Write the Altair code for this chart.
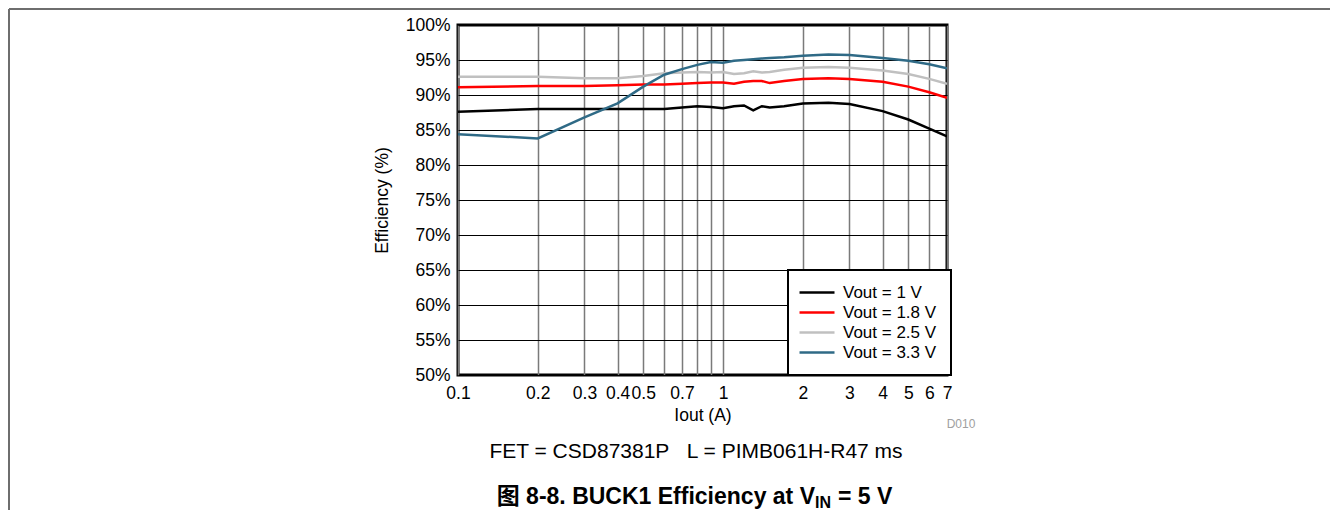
import altair as alt
import pandas as pd

FONT = "Liberation Sans, Arial, Helvetica, Noto Sans CJK SC, sans-serif"

currents = [0.1, 0.2, 0.3, 0.4, 0.5, 0.6, 0.7, 0.8, 0.9, 1.0, 1.1, 1.2, 1.3, 1.4, 1.5, 1.7, 2, 2.5, 3, 4, 5, 6, 7]
eff_1v0 = [87.6, 88.0, 88.0, 88.0, 88.0, 88.0, 88.2, 88.4, 88.3, 88.1, 88.4, 88.5, 87.8, 88.4, 88.2, 88.4, 88.8, 88.9, 88.7, 87.7, 86.5, 85.2, 84.1]
eff_1v8 = [91.1, 91.3, 91.3, 91.4, 91.5, 91.5, 91.6, 91.7, 91.8, 91.8, 91.6, 91.9, 92.0, 92.0, 91.7, 92.0, 92.3, 92.4, 92.3, 91.9, 91.2, 90.4, 89.6]
eff_2v5 = [92.6, 92.6, 92.4, 92.4, 92.7, 93.1, 93.2, 93.3, 93.2, 93.3, 93.0, 93.1, 93.4, 93.2, 93.3, 93.6, 93.9, 94.0, 93.9, 93.5, 93.0, 92.3, 91.6]
eff_3v3 = [84.4, 83.8, 86.8, 88.8, 91.2, 92.9, 93.7, 94.3, 94.7, 94.6, 94.9, 95.0, 95.1, 95.2, 95.3, 95.4, 95.6, 95.8, 95.7, 95.3, 94.9, 94.4, 93.8]

series_names = ["Vout = 1 V", "Vout = 1.8 V", "Vout = 2.5 V", "Vout = 3.3 V"]
series_colors = ["#000000", "#FF0000", "#C0C0C0", "#2F6A86"]

x_ticks = [0.1, 0.2, 0.3, 0.4, 0.5, 0.6, 0.7, 0.8, 0.9, 1, 2, 3, 4, 5, 6, 7]
y_ticks = [50, 55, 60, 65, 70, 75, 80, 85, 90, 95, 100]

x_title = "Iout (A)"
y_title = "Efficiency (%)"
code_text = ["D010"]
sub_text = ["FET = CSD87381P\u00a0\u00a0\u00a0L = PIMB061H-R47 ms"]
caption_main = ["图 8-8. BUCK1 Efficiency at V"]
caption_sub = ["IN"]
caption_end = ["= 5 V"]

rows = []
for name, vals in zip(series_names, [eff_1v0, eff_1v8, eff_2v5, eff_3v3]):
    for c, v in zip(currents, vals):
        rows.append({"Iout": c, "Eff": v, "Series": name})
df = pd.DataFrame(rows)

lines = alt.Chart(df).mark_line(strokeWidth=2.5, clip=True).encode(
    x=alt.X("Iout:Q",
            scale=alt.Scale(type="log", domain=[0.1, 7], nice=False),
            axis=alt.Axis(values=x_ticks, format="~g", title=x_title,
                          labelExpr="(datum.value == 0.6 || datum.value == 0.8 || datum.value == 0.9) ? '' : datum.label",
                          gridColor="#7a7a7a", gridWidth=1.5, labelPadding=9, titlePadding=5,
                          labelOverlap=False, labelFlush=False)),
    y=alt.Y("Eff:Q",
            scale=alt.Scale(domain=[50, 100], nice=False, zero=False),
            axis=alt.Axis(values=y_ticks, labelExpr="datum.value + '%'", title=y_title,
                          gridColor="#000000", gridWidth=1, labelPadding=8, titlePadding=14)),
    color=alt.Color("Series:N",
                    scale=alt.Scale(domain=series_names, range=series_colors),
                    legend=alt.Legend(orient="none", legendX=330, legendY=245, title=None,
                                      symbolType="M-1.83,0L4,0", symbolSize=144, symbolStrokeWidth=2.5,
                                      labelFontSize=17, labelFont=FONT, labelOffset=24,
                                      rowPadding=2, padding=14, strokeColor="black",
                                      fillColor="white")),
)

one = pd.DataFrame({"k": [0]})

frame_v = alt.Chart(one).mark_rule(color="#6e6e6e", strokeWidth=2).encode(
    x=alt.value(-449), y=alt.value(-16), y2=alt.value(493))
frame_h = alt.Chart(one).mark_rule(color="#6e6e6e", strokeWidth=2).encode(
    x=alt.value(-449), x2=alt.value(880), y=alt.value(-16))

t_code = alt.Chart(pd.DataFrame({"t": code_text})).mark_text(
    font=FONT, fontSize=12, color="#a0a0a0", align="center", baseline="alphabetic").encode(
    x=alt.value(503), y=alt.value(403), text="t:N")
t_sub = alt.Chart(pd.DataFrame({"t": sub_text})).mark_text(
    font=FONT, fontSize=21, color="#000000", align="center", baseline="alphabetic").encode(
    x=alt.value(238), y=alt.value(433), text="t:N")
t_cap1 = alt.Chart(pd.DataFrame({"t": caption_main})).mark_text(
    font=FONT, fontSize=23, fontWeight="bold", color="#000000", align="right", baseline="alphabetic").encode(
    x=alt.value(357), y=alt.value(479), text="t:N")
t_cap2 = alt.Chart(pd.DataFrame({"t": caption_sub})).mark_text(
    font=FONT, fontSize=16, fontWeight="bold", color="#000000", align="left", baseline="alphabetic").encode(
    x=alt.value(357), y=alt.value(483), text="t:N")
t_cap3 = alt.Chart(pd.DataFrame({"t": caption_end})).mark_text(
    font=FONT, fontSize=23, fontWeight="bold", color="#000000", align="left", baseline="alphabetic").encode(
    x=alt.value(380), y=alt.value(479), text="t:N")

chart = alt.layer(lines, frame_v, frame_h, t_code, t_sub, t_cap1, t_cap2, t_cap3).properties(
    width=489, height=350,
    autosize=alt.AutoSizeParams(type="none"),
    padding={"left": 450, "top": 17, "right": 383, "bottom": 135},
).configure_view(
    stroke="black", strokeWidth=3
).configure_axis(
    ticks=False, domain=False, labelFont=FONT, labelFontSize=17.5, labelColor="#000000",
    titleFont=FONT, titleFontSize=17.5, titleFontWeight="normal", titleColor="#000000"
).configure_legend(
    strokeWidth=2
)

chart.save("out.html", embed_options={"renderer": "svg", "actions": False})
